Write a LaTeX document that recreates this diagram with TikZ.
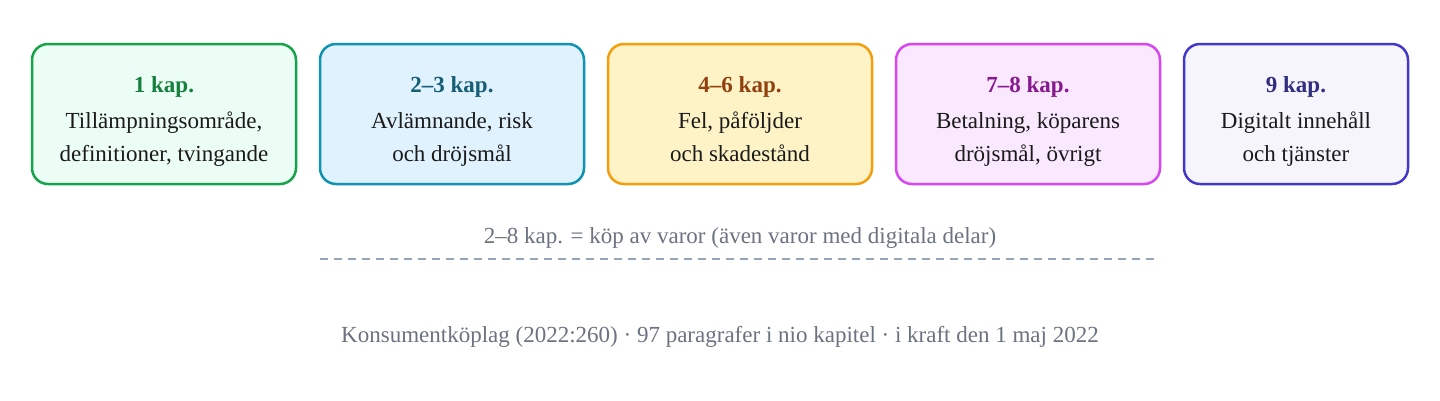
\documentclass[tikz,border=0pt]{standalone}
\usepackage{fontspec}
\setmainfont{Liberation Serif}
\definecolor{gB}{HTML}{16A34A}\definecolor{gF}{HTML}{ECFDF5}\definecolor{gT}{HTML}{15803D}
\definecolor{cB}{HTML}{0E93B3}\definecolor{cF}{HTML}{E0F2FE}\definecolor{cT}{HTML}{155E75}
\definecolor{oB}{HTML}{F59E0B}\definecolor{oF}{HTML}{FEF3C7}\definecolor{oT}{HTML}{92400E}
\definecolor{pB}{HTML}{D946EF}\definecolor{pF}{HTML}{FAE8FF}\definecolor{pT}{HTML}{86198F}
\definecolor{iB}{HTML}{4338CA}\definecolor{iF}{HTML}{F5F5FB}\definecolor{iT}{HTML}{312E81}
\definecolor{bodyT}{HTML}{1A1A1A}
\definecolor{grayT}{HTML}{6B7280}
\definecolor{dashC}{HTML}{94A3B8}
\newcommand{\fixtop}{\vphantom{Åj}}
\begin{document}
\begin{tikzpicture}[x=1pt,y=-1pt,
  chap/.style={draw, line width=2.5pt, rounded corners=16pt, minimum height=140pt, inner sep=0pt},
  chaptext/.style={align=center, font=\fontsize{23}{33}\selectfont, text=bodyT, inner sep=0pt},
  note/.style={font=\fontsize{23}{26}\selectfont, text=grayT, inner sep=0pt}]
\useasboundingbox (0,0) rectangle (1440,400);
\fill[white] (0,0) rectangle (1440,400);
\node[chap, draw=gB, fill=gF, minimum width=264pt] (b1) at (164,114) {};
\node[chap, draw=cB, fill=cF, minimum width=264pt] (b2) at (452,114) {};
\node[chap, draw=oB, fill=oF, minimum width=264pt] (b3) at (740,114) {};
\node[chap, draw=pB, fill=pF, minimum width=264pt] (b4) at (1028,114) {};
\node[chap, draw=iB, fill=iF, minimum width=224pt] (b5) at (1296,114) {};
\node[chaptext] (t1) at ([yshift=-6pt]b1.center) {\fixtop{\bfseries\color{gT}1 kap.}\\[3pt]Tillämpningsområde,\\definitioner, tvingande\fixtop};
\node[chaptext] (t2) at ([yshift=-6pt]b2.center) {\fixtop{\bfseries\color{cT}2–3 kap.}\\[3pt]Avlämnande, risk\\och dröjsmål\fixtop};
\node[chaptext] (t3) at ([yshift=-6pt]b3.center) {\fixtop{\bfseries\color{oT}4–6 kap.}\\[3pt]Fel, påföljder\\och skadestånd\fixtop};
\node[chaptext] (t4) at ([yshift=-6pt]b4.center) {\fixtop{\bfseries\color{pT}7–8 kap.}\\[3pt]Betalning, köparens\\dröjsmål, övrigt\fixtop};
\node[chaptext] (t5) at ([yshift=-6pt]b5.center) {\fixtop{\bfseries\color{iT}9 kap.}\\[3pt]Digitalt innehåll\\och tjänster\fixtop};
\node[note] (n1) at (740,238) {2–8 kap. = köp av varor (även varor med digitala delar)};
\coordinate (dl) at (320,259);
\coordinate (dr) at (1156,259);
\draw[dashC, line width=2pt, dash pattern=on 8pt off 6pt] (dl) -- (dr);
\node[note] (n2) at (720,337) {Konsumentköplag (2022:260) · 97 paragrafer i nio kapitel · i kraft den 1 maj 2022};
\end{tikzpicture}
\end{document}
